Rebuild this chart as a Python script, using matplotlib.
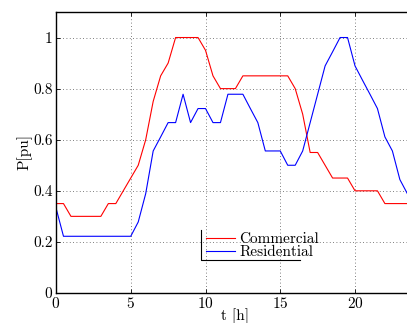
import matplotlib
matplotlib.use("Agg")
import matplotlib.pyplot as plt
import matplotlib.ticker as ticker
from matplotlib.lines import Line2D
import numpy as np

# ── data (half-hour steps) ────────────────────────────────────────────────────
t_hours = np.arange(0, 24, 0.5)

commercial = [0.35, 0.35, 0.30, 0.30, 0.30, 0.30, 0.30, 0.35, 0.35, 0.40,
              0.45, 0.50, 0.60, 0.75, 0.85, 0.90, 1.00, 1.00, 1.00, 1.00,
              0.95, 0.85, 0.80, 0.80, 0.80, 0.85, 0.85, 0.85, 0.85, 0.85,
              0.85, 0.85, 0.80, 0.70, 0.55, 0.55, 0.50, 0.45, 0.45, 0.45,
              0.40, 0.40, 0.40, 0.40, 0.35, 0.35, 0.35, 0.35]

residential = [0.333, 0.222, 0.222, 0.222, 0.222, 0.222, 0.222, 0.222, 0.222, 0.222,
               0.222, 0.278, 0.389, 0.556, 0.611, 0.667, 0.667, 0.778, 0.667, 0.722,
               0.722, 0.667, 0.667, 0.778, 0.778, 0.778, 0.722, 0.667, 0.556, 0.556,
               0.556, 0.500, 0.500, 0.556, 0.667, 0.778, 0.889, 0.944, 1.000, 1.000,
               0.889, 0.833, 0.778, 0.722, 0.611, 0.556, 0.444, 0.389]

series_names = ["Commercial", "Residential"]
x_ticks = [0, 5, 10, 15, 20]
y_ticks = [0, 0.2, 0.4, 0.6, 0.8, 1.0]

# ── style ─────────────────────────────────────────────────────────────────────
plt.rcParams.update({
    "font.family": "serif",
    "font.serif": ["cmr10", "DejaVu Serif"],
    "axes.formatter.use_mathtext": True,
    "font.size": 11,
})

fig = plt.figure(figsize=(4.07, 3.23), dpi=100, facecolor="white")
ax = fig.add_axes([0.1376, 0.0929, 0.8816, 0.87])

ax.plot(t_hours, commercial, color="#ff0000", linewidth=0.8, label=series_names[0])
ax.plot(t_hours, residential, color="#0000ff", linewidth=0.8, label=series_names[1])

ax.set_xlim(0, 24)
ax.set_ylim(0, 1.1)
ax.set_xticks(x_ticks)
ax.set_yticks(y_ticks)
ax.yaxis.set_major_formatter(ticker.FuncFormatter(lambda v, _: f"{v:g}"))
ax.tick_params(direction="in", top=True, right=False, length=3, width=0.6,
               labelsize=11, pad=2.5)
ax.grid(True, linestyle=(0, (1, 3)), color="#555555", linewidth=0.6)

for side in ("left", "bottom", "top"):
    ax.spines[side].set_linewidth(1.0)
ax.spines["right"].set_visible(False)

ax.set_xlabel("t [h]", labelpad=-2)
ax.set_ylabel("P[pu]", labelpad=0)

leg = ax.legend(loc="upper left", bbox_to_anchor=(0.404, 0.232), frameon=False,
                handlelength=1.9, handletextpad=0.3, labelspacing=-0.05,
                borderaxespad=0, borderpad=0.3, fontsize=11)

# matlab-style legend box: only left and bottom edges show
ax.add_line(Line2D([0.404, 0.404, 0.680], [0.224, 0.117, 0.117],
                   transform=ax.transAxes, color="black", linewidth=0.8))

fig.savefig("out.png", dpi=100, facecolor="white")
